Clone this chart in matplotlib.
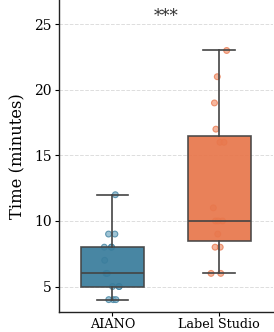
import numpy as np
import matplotlib
matplotlib.use("Agg")
import matplotlib.pyplot as plt
import seaborn as sns
import pandas as pd

tools = ["AIANO", "Label Studio"]
aiano = [4, 4, 4, 5, 5, 5, 6, 6, 7, 8, 8, 8, 9, 9, 12]
label_studio = [6, 6, 8, 8, 9, 10, 10, 10, 11, 16, 16, 17, 19, 21, 23]
box_colors = ["#3a7d9c", "#e8774c"]
point_colors = ["#7fb0c8", "#f29e7e"]

df = pd.DataFrame({
    "tool": [tools[0]] * len(aiano) + [tools[1]] * len(label_studio),
    "time": aiano + label_studio,
})

plt.rcParams['font.family'] = ['DejaVu Serif']
fig = plt.figure(figsize=(2.74, 3.32), dpi=100)
ax = fig.add_axes([0.215, 0.06, 0.78, 0.94])

np.random.seed(3)
sns.stripplot(data=df, x="tool", y="time", hue="tool", palette=point_colors,
              jitter=0.08, size=4.2, alpha=0.75, linewidth=0.8,
              edgecolor=None, ax=ax, zorder=1, legend=False)
for coll, c in zip(ax.collections, box_colors):
    coll.set_edgecolor(c)

bp = ax.boxplot([aiano, label_studio], positions=[0, 1], widths=0.59,
                patch_artist=True, showfliers=False, zorder=2,
                medianprops=dict(color="#444444", linewidth=1.2),
                whiskerprops=dict(color="#444444", linewidth=1.2),
                capprops=dict(color="#444444", linewidth=1.2),
                boxprops=dict(edgecolor="#444444", linewidth=1.2))
for patch, c in zip(bp["boxes"], box_colors):
    patch.set_facecolor(c)
    patch.set_alpha(0.93)
    patch.set_edgecolor("#444444")

ax.text(0.5, 25.6, "***", ha="center", va="center", fontsize=12, color="#333333")

ax.set_xlim(-0.5, 1.5)
ax.set_ylim(3.05, 26.85)
ax.set_yticks([5, 10, 15, 20, 25])
ax.set_xticks([0, 1])
ax.set_xticklabels(tools, fontsize=9.2)
ax.tick_params(axis="y", labelsize=10, length=3, pad=2)
ax.tick_params(axis="x", length=3, pad=1.5)
ax.set_xlabel("")
ax.set_ylabel("Time (minutes)", fontsize=11.8, labelpad=6)
ax.grid(axis="y", linestyle="--", color="#dddddd", linewidth=0.7, zorder=0)
ax.set_axisbelow(True)
for s in ["top", "right"]:
    ax.spines[s].set_visible(False)
for s in ["left", "bottom"]:
    ax.spines[s].set_color("#222222")
    ax.spines[s].set_linewidth(1.0)

fig.savefig("out.png", dpi=100)
